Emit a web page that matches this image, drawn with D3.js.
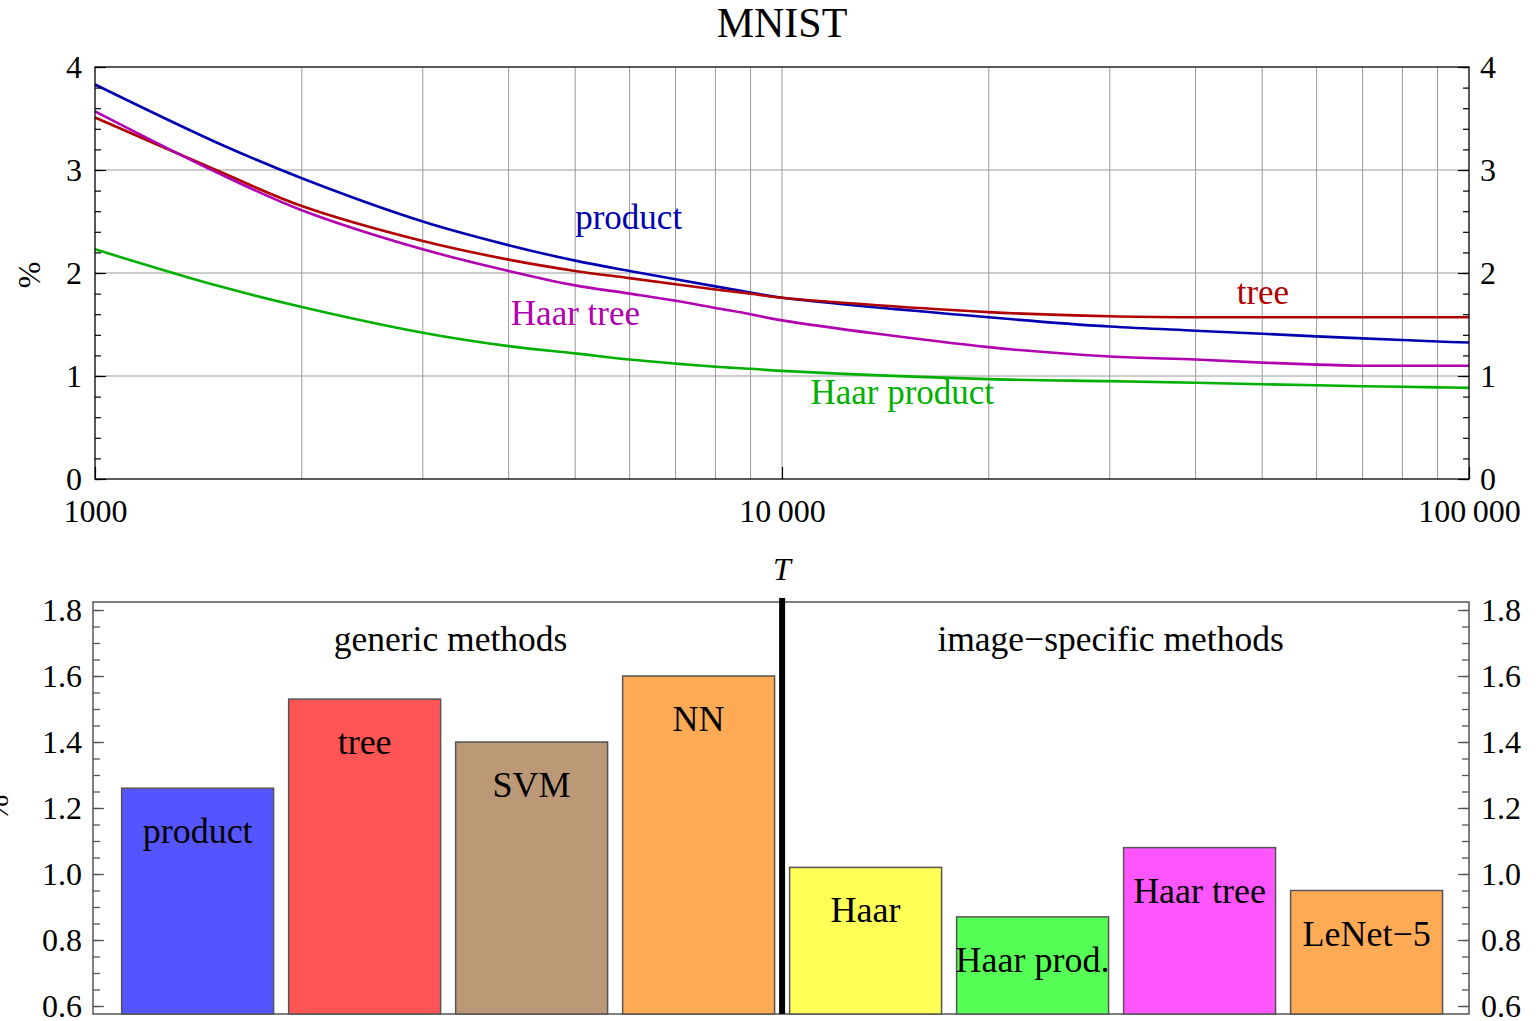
<!DOCTYPE html>
<html lang="en">
<head>
<meta charset="UTF-8">
<title>MNIST</title>
<style>
    body { margin: 0; background: #fff; }
    text { font-family: "Liberation Serif", "Times New Roman", serif; fill: #000; }
</style>
<script src="https://d3js.org/d3.v7.min.js"></script>
</head>
<body>
<div class="graph"></div>
<script>
    // top panel: error rate (%) vs T
    const T = [1000, 1500, 2000, 3000, 4000, 5000, 6000, 7000, 8000, 9000, 10000,
               20000, 30000, 40000, 50000, 60000, 70000, 80000, 90000, 100000]
    const product     = [3.83, 3.27, 2.92, 2.50, 2.27, 2.12, 2.02, 1.94, 1.87, 1.81, 1.76, 1.57, 1.48, 1.44, 1.41, 1.385, 1.365, 1.35, 1.335, 1.325]
    const tree        = [3.51, 3.00, 2.65, 2.31, 2.13, 2.02, 1.95, 1.89, 1.84, 1.80, 1.76, 1.62, 1.58, 1.57, 1.57, 1.57, 1.57, 1.57, 1.57, 1.57]
    const haarTree    = [3.57, 2.98, 2.61, 2.23, 2.02, 1.88, 1.80, 1.73, 1.66, 1.60, 1.54, 1.28, 1.19, 1.16, 1.13, 1.11, 1.10, 1.10, 1.10, 1.10]
    const haarProduct = [2.23, 1.88, 1.67, 1.42, 1.29, 1.22, 1.16, 1.12, 1.09, 1.07, 1.05, 0.97, 0.95, 0.935, 0.92, 0.91, 0.90, 0.895, 0.89, 0.885]
    const xTicks = [1000, 10000, 100000]
    const xTickLabels = ['1000', '10\u2009000', '100\u2009000']

    // bottom panel: best error rate per method
    const methods = ['product', 'tree', 'SVM', 'NN', 'Haar', 'Haar prod.', 'Haar tree', 'LeNet\u22125']
    const errors  = [1.26, 1.53, 1.40, 1.60, 1.02, 0.87, 1.08, 0.95]
    const groups  = ['generic methods', 'image\u2212specific methods']

    const series = [
        { name: 'product',      values: product,     color: '#0000b0', label: { t: 5000,  v: 2.43 } },
        { name: 'tree',         values: tree,        color: '#b00000', label: { t: 45900, v: 1.70 } },
        { name: 'Haar tree',    values: haarTree,    color: '#b000b0', label: { t: 4030,  v: 1.50 } },
        { name: 'Haar product', values: haarProduct, color: '#00b000', label: { t: 11000, v: 0.73 } }
    ]
    const barColors = ['#5555ff', '#ff5555', '#bb9977', '#ffaa55', '#ffff55', '#55ff55', '#ff55ff', '#ffaa55']

    const W = 1538, H = 1021
    const svg = d3.select('.graph').append('svg')
        .attr('width', W).attr('height', H)

    // ---------- top panel ----------
    const tp = { left: 95, right: 1469, top: 67, bottom: 479 }
    const x = d3.scaleLog().domain([1000, 100000]).range([tp.left, tp.right])
    const y = d3.scaleLinear().domain([0, 4]).range([tp.bottom, tp.top])

    svg.append('text')
        .attr('x', 782).attr('y', 37)
        .attr('text-anchor', 'middle')
        .style('font-size', '42px')
        .text('MNIST')

    const grid = svg.append('g')
    grid.selectAll('.vg')
        .data(x.ticks().filter(d => d > 1000 && d < 100000))
        .join('line')
        .attr('x1', d => x(d)).attr('x2', d => x(d))
        .attr('y1', tp.top).attr('y2', tp.bottom)
        .attr('stroke', '#999').attr('stroke-width', 1)
    grid.selectAll('.hg')
        .data([1, 2, 3])
        .join('line')
        .attr('x1', tp.left).attr('x2', tp.right)
        .attr('y1', d => y(d)).attr('y2', d => y(d))
        .attr('stroke', '#999').attr('stroke-width', 1)

    const line = d3.line()
        .x((d, i) => x(T[i]))
        .y(d => y(d))
        .curve(d3.curveCatmullRom.alpha(0.5))

    svg.selectAll('.curve')
        .data(series)
        .join('path')
        .attr('d', d => line(d.values))
        .attr('fill', 'none')
        .attr('stroke', d => d.color)
        .attr('stroke-width', 2.6)

    svg.selectAll('.clabel')
        .data(series)
        .join('text')
        .attr('x', d => x(d.label.t))
        .attr('y', d => y(d.label.v))
        .style('font-size', '35px')
        .style('fill', d => d.color)
        .text(d => d.name)

    svg.append('rect')
        .attr('x', tp.left).attr('y', tp.top)
        .attr('width', tp.right - tp.left).attr('height', tp.bottom - tp.top)
        .attr('fill', 'none').attr('stroke', '#000').attr('stroke-width', 1.3)

    const styleAxis = (g, size) => {
        g.select('.domain').remove()
        g.selectAll('line').attr('stroke', '#000').attr('stroke-width', 1.2)
        g.selectAll('text').style('font-size', size)
    }

    const yMinor = d3.range(0, 4.001, 0.2)
    svg.append('g').attr('transform', `translate(${tp.left},0)`)
        .call(d3.axisLeft(y).tickValues(yMinor).tickFormat('').tickSize(-6))
        .call(g => styleAxis(g, '32px'))
    svg.append('g').attr('transform', `translate(${tp.left},0)`)
        .call(d3.axisLeft(y).ticks(4).tickSize(-11).tickPadding(13).tickFormat(d3.format('d')))
        .call(g => styleAxis(g, '32px'))
    svg.append('g').attr('transform', `translate(${tp.right},0)`)
        .call(d3.axisRight(y).tickValues(yMinor).tickFormat('').tickSize(-6))
        .call(g => styleAxis(g, '32px'))
    svg.append('g').attr('transform', `translate(${tp.right},0)`)
        .call(d3.axisRight(y).ticks(4).tickSize(-11).tickPadding(11).tickFormat(d3.format('d')))
        .call(g => styleAxis(g, '32px'))
    svg.append('g').attr('transform', `translate(0,${tp.bottom})`)
        .call(d3.axisBottom(x).tickValues(xTicks).tickSize(-12).tickPadding(20)
            .tickFormat((d, i) => xTickLabels[i]))
        .call(g => styleAxis(g, '32px'))

    svg.append('text')
        .attr('transform', `translate(40,${(tp.top + tp.bottom) / 2 + 2}) rotate(-90)`)
        .attr('text-anchor', 'middle')
        .style('font-size', '32px')
        .text('%')

    svg.append('text')
        .attr('x', 782).attr('y', 580)
        .attr('text-anchor', 'middle')
        .style('font-size', '32px').style('font-style', 'italic')
        .text('T')

    // ---------- bottom panel ----------
    const bt = { left: 93, right: 1469, top: 602, bottom: 1014 }
    const xb = d3.scaleBand().domain(methods).range([bt.left, bt.right])
        .paddingInner(0.09).paddingOuter(0.165).align(0.52)
    const yb = d3.scaleLinear().domain([0.6, 1.8]).range([1006, 610])

    svg.append('rect')
        .attr('x', bt.left).attr('y', bt.top)
        .attr('width', bt.right - bt.left).attr('height', bt.bottom - bt.top)
        .attr('fill', 'none').attr('stroke', '#555').attr('stroke-width', 1.5)

    const bars = svg.selectAll('.bar')
        .data(methods)
        .join('g')
    bars.append('rect')
        .attr('x', d => xb(d))
        .attr('y', (d, i) => yb(errors[i]))
        .attr('width', xb.bandwidth())
        .attr('height', (d, i) => bt.bottom - yb(errors[i]))
        .attr('fill', (d, i) => barColors[i])
        .attr('stroke', '#555').attr('stroke-width', 1.5)
    bars.append('text')
        .attr('x', d => xb(d) + xb.bandwidth() / 2)
        .attr('y', (d, i) => yb(errors[i]) + 55)
        .attr('text-anchor', 'middle')
        .style('font-size', '36px')
        .text(d => d)

    // divider between generic and image-specific methods
    const split = (xb('NN') + xb.bandwidth() + xb('Haar')) / 2
    svg.append('line')
        .attr('x1', split).attr('x2', split)
        .attr('y1', bt.top - 4).attr('y2', bt.bottom)
        .attr('stroke', '#000').attr('stroke-width', 6)

    svg.selectAll('.glabel')
        .data(groups)
        .join('text')
        .attr('x', (d, i) => i === 0 ? (bt.left + split) / 2 + 13 : (split + bt.right) / 2 - 15)
        .attr('y', 651)
        .attr('text-anchor', 'middle')
        .style('font-size', '35.5px')
        .text(d => d)

    const ybMinor = d3.range(0.6, 1.8001, 0.05)
    const styleB = (g) => {
        g.select('.domain').remove()
        g.selectAll('line').attr('stroke', '#555').attr('stroke-width', 1.3)
        g.selectAll('text').style('font-size', '32px')
    }
    svg.append('g').attr('transform', `translate(${bt.left},0)`)
        .call(d3.axisLeft(yb).tickValues(ybMinor).tickFormat('').tickSize(-7))
        .call(styleB)
    svg.append('g').attr('transform', `translate(${bt.left},0)`)
        .call(d3.axisLeft(yb).ticks(6).tickSize(-11).tickPadding(11).tickFormat(d3.format('.1f')))
        .call(styleB)
    svg.append('g').attr('transform', `translate(${bt.right},0)`)
        .call(d3.axisRight(yb).tickValues(ybMinor).tickFormat('').tickSize(-7))
        .call(styleB)
    svg.append('g').attr('transform', `translate(${bt.right},0)`)
        .call(d3.axisRight(yb).ticks(6).tickSize(-11).tickPadding(12).tickFormat(d3.format('.1f')))
        .call(styleB)

    svg.append('text')
        .attr('transform', `translate(8,${(bt.top + bt.bottom) / 2}) rotate(-90)`)
        .attr('text-anchor', 'middle')
        .style('font-size', '32px')
        .text('%')
</script>
</body>
</html>
